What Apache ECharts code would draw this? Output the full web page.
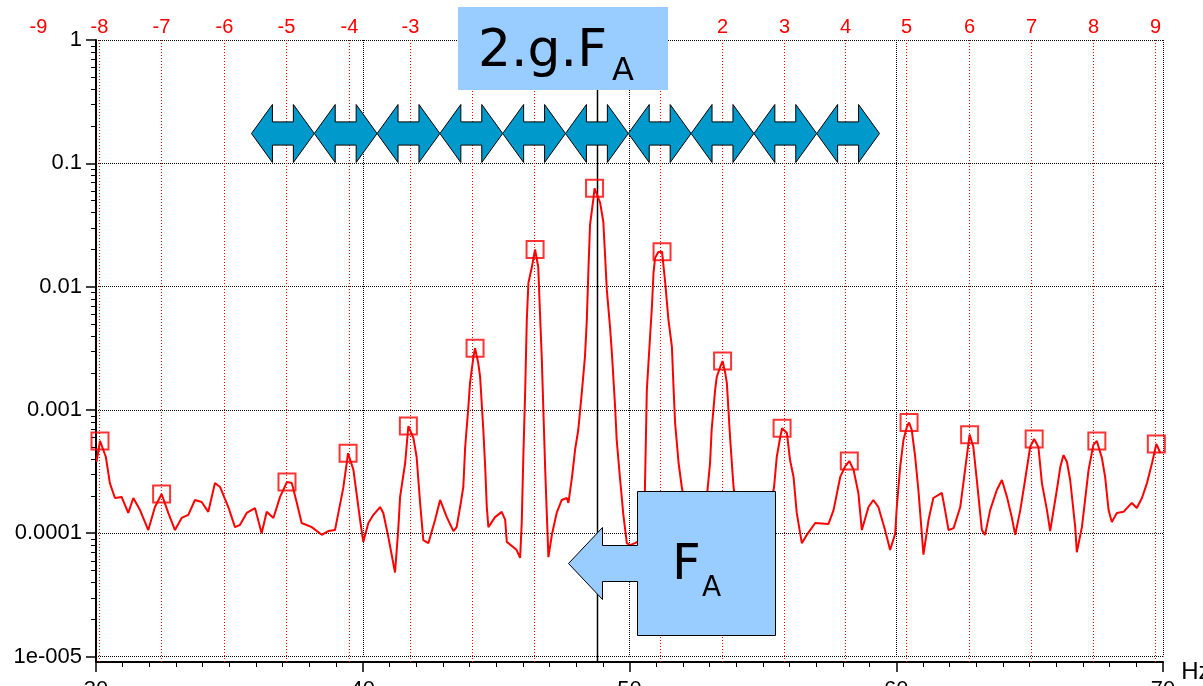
<!DOCTYPE html>
<html>
<head>
<meta charset="utf-8">
<title>Spectre - bandes latérales</title>
<script src="https://cdn.jsdelivr.net/npm/echarts@6/dist/echarts.min.js"></script>
<style>
  html, body { margin: 0; padding: 0; background: #ffffff; }
  #chart { width: 1203px; height: 686px; }
</style>
</head>
<body>
<div id="chart"></div>
<script>
// Spectrum samples: frequency (Hz) and amplitude
const freqHz = [
  30.02, 30.15, 30.37, 30.52, 30.71, 30.96, 31.21, 31.40, 31.65, 31.96,
  32.21, 32.46, 32.71, 32.96, 33.21, 33.46, 33.71, 33.96, 34.21, 34.46,
  34.65, 34.96, 35.21, 35.40, 35.65, 35.96, 36.21, 36.40, 36.65, 36.90,
  37.16, 37.34, 37.53, 37.71, 38.09, 38.46, 38.71, 38.96, 39.27, 39.45,
  39.65, 39.90, 40.02, 40.21, 40.40, 40.65, 40.77, 40.96, 41.21, 41.33,
  41.40, 41.59, 41.71, 41.90, 42.02, 42.15, 42.27, 42.46, 42.71, 42.90,
  43.15, 43.40, 43.52, 43.65, 43.77, 43.84, 43.96, 44.02, 44.15, 44.21,
  44.33, 44.40, 44.52, 44.59, 44.65, 44.71, 44.96, 45.21, 45.34, 45.40,
  45.65, 45.77, 45.90, 45.96, 46.02, 46.09, 46.15, 46.21, 46.34, 46.46,
  46.58, 46.65, 46.71, 46.84, 46.96, 47.09, 47.27, 47.46, 47.65, 47.71,
  47.84, 47.96, 48.08, 48.21, 48.33, 48.40, 48.46, 48.52, 48.65, 48.69,
  48.90, 49.02, 49.08, 49.15, 49.27, 49.34, 49.46, 49.52, 49.65, 49.77,
  49.90, 50.02, 50.21, 50.40, 50.57, 50.65, 50.77, 50.84, 50.90, 50.96,
  51.08, 51.22, 51.34, 51.46, 51.59, 51.65, 51.71, 51.84, 51.96, 52.12,
  52.38, 52.65, 52.87, 53.02, 53.08, 53.21, 53.27, 53.40, 53.49, 53.59,
  53.65, 53.77, 53.90, 54.07, 54.34, 54.60, 54.90, 55.20, 55.42, 55.52,
  55.65, 55.72, 55.90, 56.02, 56.15, 56.27, 56.46, 56.65, 56.96, 57.46,
  57.65, 57.90, 58.09, 58.24, 58.40, 58.58, 58.71, 58.96, 59.14, 59.33,
  59.58, 59.77, 59.96, 60.02, 60.15, 60.27, 60.40, 60.48, 60.58, 60.71,
  60.83, 61.02, 61.21, 61.39, 61.71, 61.83, 61.96, 62.15, 62.40, 62.58,
  62.75, 62.89, 63.02, 63.21, 63.33, 63.52, 63.77, 63.96, 64.15, 64.33,
  64.46, 64.65, 64.83, 65.02, 65.17, 65.33, 65.46, 65.65, 65.77, 66.02,
  66.15, 66.27, 66.40, 66.52, 66.71, 66.77, 66.96, 67.08, 67.21, 67.39,
  67.52, 67.71, 67.83, 67.96, 68.08, 68.27, 68.52, 68.83, 69.02, 69.21,
  69.40, 69.59, 69.75, 69.90
];
const amplitude = [
  3.8e-4, 5.6e-4, 4.15e-4, 2.55e-4, 1.93e-4, 1.97e-4, 1.46e-4, 1.93e-4, 1.54e-4, 1.06e-4,
  1.63e-4, 2.08e-4, 1.46e-4, 1.06e-4, 1.33e-4, 1.41e-4, 1.86e-4, 1.79e-4, 1.49e-4, 2.55e-4,
  2.37e-4, 1.63e-4, 1.12e-4, 1.17e-4, 1.46e-4, 1.60e-4, 1.0e-4, 1.49e-4, 1.33e-4, 1.97e-4,
  2.6e-4, 2.55e-4, 1.76e-4, 1.21e-4, 1.12e-4, 9.7e-5, 1.04e-4, 1.06e-4, 2.33e-4, 4.45e-4,
  3.26e-4, 1.28e-4, 8.5e-5, 1.21e-4, 1.41e-4, 1.63e-4, 1.46e-4, 9.3e-5, 4.8e-5, 1.06e-4,
  1.97e-4, 3.71e-4, 7.4e-4, 5.9e-4, 4.15e-4, 1.76e-4, 8.8e-5, 8.3e-5, 1.28e-4, 1.86e-4,
  1.35e-4, 1.04e-4, 1.12e-4, 1.63e-4, 2.37e-4, 5.0e-4, 1.06e-3, 1.65e-3, 2.69e-3, 3.16e-3,
  2.40e-3, 1.85e-3, 6.9e-4, 3.44e-4, 1.63e-4, 1.12e-4, 1.35e-4, 1.49e-4, 1.28e-4, 8.5e-5,
  7.7e-5, 7.3e-5, 6.3e-5, 1.21e-4, 4.15e-4, 1.45e-3, 5.36e-3, 1.07e-2, 1.44e-2, 2.0e-2,
  1.44e-2, 5.67e-3, 2.69e-3, 3.26e-4, 6.4e-5, 9.7e-5, 1.46e-4, 1.86e-4, 1.93e-4, 1.76e-4,
  2.8e-4, 4.75e-4, 6.9e-4, 1.37e-3, 2.69e-3, 5.36e-3, 1.36e-2, 3.16e-2, 5.23e-2, 6.27e-2,
  4.77e-2, 3.34e-2, 1.87e-2, 9.4e-3, 4.7e-3, 2.89e-3, 1.06e-3, 5.7e-4, 2.7e-4, 1.41e-4,
  8.3e-5, 8.0e-5, 8.3e-5, 8.8e-5, 1.86e-4, 1.45e-3, 3.9e-3, 6.8e-3, 1.29e-2, 1.71e-2,
  1.91e-2, 1.92e-2, 1.07e-2, 5.36e-3, 3.24e-3, 1.53e-3, 7.8e-4, 3.71e-4, 2.37e-4, 1.54e-4,
  9.7e-5, 1.17e-4, 1.69e-4, 3.71e-4, 6.9e-4, 1.45e-3, 1.85e-3, 2.23e-3, 2.49e-3, 1.99e-3,
  1.65e-3, 6.0e-4, 2.37e-4, 1.28e-4, 9.7e-5, 1.17e-4, 8.8e-5, 1.28e-4, 2.37e-4, 4.15e-4,
  6.0e-4, 7.1e-4, 6.5e-4, 3.9e-4, 2.86e-4, 1.46e-4, 8.3e-5, 9.7e-5, 1.21e-4, 1.19e-4,
  1.54e-4, 2.86e-4, 3.5e-4, 3.85e-4, 3.26e-4, 2.12e-4, 1.06e-4, 1.63e-4, 1.86e-4, 1.63e-4,
  1.06e-4, 7.3e-5, 9.9e-5, 1.63e-4, 3.5e-4, 5.7e-4, 7.3e-4, 7.9e-4, 6.9e-4, 4.15e-4,
  2.24e-4, 6.7e-5, 1.28e-4, 1.93e-4, 2.12e-4, 1.54e-4, 1.06e-4, 1.1e-4, 1.63e-4, 3.26e-4,
  6.3e-4, 5.0e-4, 2.7e-4, 1.06e-4, 9.7e-5, 1.54e-4, 2.24e-4, 2.7e-4, 1.97e-4, 1.35e-4,
  9.7e-5, 1.54e-4, 2.7e-4, 5.0e-4, 5.8e-4, 5.0e-4, 2.55e-4, 1.54e-4, 1.04e-4, 2.24e-4,
  3.44e-4, 4.3e-4, 3.78e-4, 2.7e-4, 1.12e-4, 7.0e-5, 1.12e-4, 1.86e-4, 3.26e-4, 5.2e-4,
  5.6e-4, 4.07e-4, 2.86e-4, 1.54e-4, 1.23e-4, 1.46e-4, 1.49e-4, 1.76e-4, 1.60e-4, 1.93e-4,
  2.55e-4, 3.71e-4, 5.3e-4, 4.47e-4
];

// Detected peaks (square markers)
const peakFreq = [30.15, 32.46, 37.16, 39.45, 41.71, 44.21, 46.46, 48.69, 51.22,
  53.49, 55.72, 58.24, 60.48, 62.75, 65.17, 67.52, 69.75];
const peakAmp = [5.6e-4, 2.08e-4, 2.6e-4, 4.45e-4, 7.4e-4, 3.16e-3, 2.0e-2, 6.27e-2, 1.92e-2,
  2.49e-3, 7.1e-4, 3.85e-4, 7.9e-4, 6.3e-4, 5.8e-4, 5.6e-4, 5.3e-4];

// Sideband orders and their frequencies (order 0 = carrier)
const sidebandOrder = [-9, -8, -7, -6, -5, -4, -3, -2, -1, 0, 1, 2, 3, 4, 5, 6, 7, 8, 9];
const sidebandFreq = [27.84, 30.13, 32.44, 34.80, 37.14, 39.47, 41.78, 44.10, 46.42, 48.79,
  51.13, 53.47, 55.78, 58.09, 60.37, 62.73, 65.06, 67.38, 69.71];

// Axis ticks
const xTicks = [30, 40, 50, 60, 70];
const yDecades = [-5, -4, -3, -2, -1, 0];
const yTickLabels = ['1e-005', '0.0001', '0.001', '0.01', '0.1', '1'];

const LABEL_FONT = '"Liberation Sans", Arial, sans-serif';
const BOX_FONT = '"DejaVu Sans", Verdana, sans-serif';
const X_MIN = xTicks[0], X_MAX = xTicks[xTicks.length - 1];
const Y_MIN = Math.pow(10, yDecades[0]), Y_MAX = Math.pow(10, yDecades[yDecades.length - 1]);
const AXIS_DROP = 5.5;   // x axis sits a little below the lowest decade

// minor log ticks (2..9 in each decade)
const yMinor = [];
for (let d = yDecades[0]; d < yDecades[yDecades.length - 1]; d++) {
  for (let m = 2; m <= 9; m++) yMinor.push([X_MIN, m * Math.pow(10, d)]);
}

function renderSideband(params, api) {
  const cs = params.coordSys;
  const f = api.value(0);
  const k = api.value(2);
  const x = Math.round(api.coord([f, Y_MAX])[0]) + 0.5;
  const children = [];
  if (f >= X_MIN && f <= X_MAX) {
    children.push({
      type: 'line',
      shape: { x1: x, y1: cs.y, x2: x, y2: cs.y + cs.height + AXIS_DROP },
      style: k === 0
        ? { stroke: '#000', lineWidth: 1.5 }
        : { stroke: '#ff0000', lineWidth: 1, lineDash: [1, 2] }
    });
  }
  children.push({
    type: 'text',
    x: x,
    y: cs.y - 13,
    style: {
      text: String(k), fill: '#ff0000', font: '20px ' + LABEL_FONT,
      align: 'center', verticalAlign: 'middle'
    }
  });
  return { type: 'group', children: children };
}

function renderMinorTick(params, api) {
  const p = api.coord([api.value(0), api.value(1)]);
  const y = Math.round(p[1]) + 0.5;
  const children = [{
    type: 'line',
    shape: { x1: p[0] - 5, y1: y, x2: p[0], y2: y },
    style: { stroke: '#000', lineWidth: 1 }
  }];
  if (params.dataIndex === 0) {
    const cs = params.coordSys;
    children.push({
      type: 'line',
      shape: { x1: cs.x, y1: cs.y + cs.height, x2: cs.x, y2: cs.y + cs.height + AXIS_DROP },
      style: { stroke: '#000', lineWidth: 2 }
    });
  }
  return { type: 'group', children: children };
}

// Double-headed arrows band
function arrowBand(left, width, top, bottom, count) {
  const els = [];
  const mid = (top + bottom) / 2;
  const half = (bottom - top) * 0.2;
  for (let i = 0; i < count; i++) {
    const x0 = left + i * width, x1 = x0 + width, h = width / 3;
    els.push({
      type: 'polygon',
      z: 100,
      shape: {
        points: [[x0, mid], [x0 + h, top], [x0 + h, mid - half], [x1 - h, mid - half],
          [x1 - h, top], [x1, mid], [x1 - h, bottom], [x1 - h, mid + half],
          [x0 + h, mid + half], [x0 + h, bottom]]
      },
      style: { fill: '#0099cc', stroke: '#000', lineWidth: 1 }
    });
  }
  return els;
}

const graphics = [].concat(
  arrowBand(251.5, 62.8, 104.5, 162.5, 10),
  [
    { type: 'rect', z: 100, shape: { x: 458, y: 7, width: 210, height: 83 },
      style: { fill: '#99ccff' } },
    { type: 'text', z: 101, x: 478, y: 52,
      style: { text: '2.g.F', font: '52px ' + BOX_FONT, fill: '#000', align: 'left', verticalAlign: 'middle' } },
    { type: 'text', z: 101, x: 612, y: 72,
      style: { text: 'A', font: '32px ' + BOX_FONT, fill: '#000', align: 'left', verticalAlign: 'middle' } },
    { type: 'polygon', z: 100,
      shape: { points: [[637.5, 491.5], [775.5, 491.5], [775.5, 635.5], [637.5, 635.5], [637.5, 581.5],
        [602.5, 581.5], [602.5, 599.5], [568.5, 563.5], [602.5, 527.5], [602.5, 545.5], [637.5, 545.5]] },
      style: { fill: '#99ccff', stroke: '#000', lineWidth: 1 } },
    { type: 'text', z: 101, x: 672, y: 566,
      style: { text: 'F', font: '50px ' + BOX_FONT, fill: '#000', align: 'left', verticalAlign: 'middle' } },
    { type: 'text', z: 101, x: 702, y: 589,
      style: { text: 'A', font: '28px ' + BOX_FONT, fill: '#000', align: 'left', verticalAlign: 'middle' } }
  ]
);

const chart = echarts.init(document.getElementById('chart'), null, { renderer: 'canvas' });

chart.setOption({
  animation: false,
  backgroundColor: '#ffffff',
  grid: { left: 96, right: 40, top: 40, bottom: 29.5, containLabel: false, outerBoundsMode: 'none' },
  xAxis: {
    type: 'value',
    min: X_MIN, max: X_MAX, interval: 10,
    offset: AXIS_DROP,
    name: 'Hz',
    nameLocation: 'end',
    nameGap: 17,
    nameTextStyle: { fontFamily: LABEL_FONT, fontSize: 24, color: '#000', align: 'left', verticalAlign: 'top', padding: [-2, 0, 0, 0] },
    axisLine: { show: true, lineStyle: { color: '#000', width: 2 } },
    axisTick: { show: true, length: 10, lineStyle: { color: '#000', width: 1.5 } },
    minorTick: { show: true, splitNumber: 10, length: 5, lineStyle: { color: '#000', width: 1 } },
    axisLabel: { color: '#000', fontFamily: LABEL_FONT, fontSize: 22, margin: 17 },
    splitLine: { show: true, lineStyle: { color: '#000', width: 1, type: [1, 1] } },
    minorSplitLine: { show: false }
  },
  yAxis: {
    type: 'log',
    logBase: 10,
    min: Y_MIN, max: Y_MAX,
    splitNumber: 5,
    axisLine: { show: true, lineStyle: { color: '#000', width: 2 } },
    axisTick: { show: true, length: 10, lineStyle: { color: '#000', width: 1.5 } },
    minorTick: { show: false },
    axisLabel: {
      color: '#000', fontFamily: LABEL_FONT, fontSize: 22, margin: 14,
      formatter: function (v) {
        const e = Math.round(Math.log10(v));
        const i = yDecades.indexOf(e);
        return i >= 0 ? yTickLabels[i] : '';
      }
    },
    splitLine: { show: true, lineStyle: { color: '#000', width: 1, type: [1, 1] } }
  },
  graphic: graphics,
  series: [
    {
      name: 'sidebands',
      type: 'custom',
      coordinateSystem: 'cartesian2d',
      renderItem: renderSideband,
      encode: { x: 0, y: 1 },
      data: sidebandFreq.map(function (f, i) { return [f, 1e-3, sidebandOrder[i]]; }),
      z: 2,
      silent: true
    },
    {
      name: 'yMinorTicks',
      type: 'custom',
      coordinateSystem: 'cartesian2d',
      renderItem: renderMinorTick,
      encode: { x: 0, y: 1 },
      data: yMinor,
      z: 2,
      silent: true
    },
    {
      name: 'spectrum',
      type: 'line',
      data: freqHz.map(function (f, i) { return [f, amplitude[i]]; }),
      showSymbol: false,
      symbol: 'none',
      lineStyle: { color: '#ff0000', width: 2 },
      z: 3
    },
    {
      name: 'peaks',
      type: 'scatter',
      data: peakFreq.map(function (f, i) { return [f, peakAmp[i]]; }),
      symbol: 'rect',
      symbolSize: 17,
      itemStyle: { color: 'rgba(0,0,0,0)', borderColor: '#ff0000', borderWidth: 2 },
      z: 4
    }
  ]
});
</script>
</body>
</html>
